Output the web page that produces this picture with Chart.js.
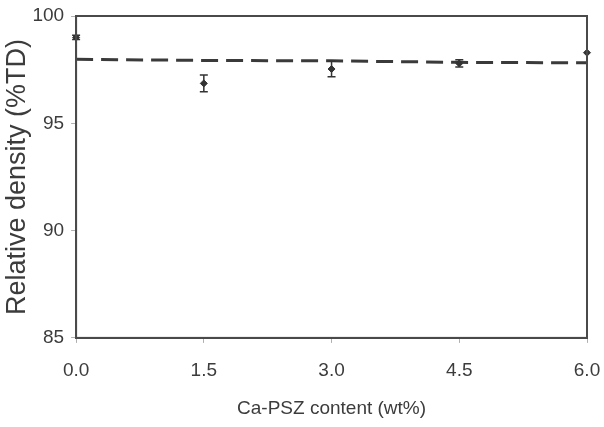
<!DOCTYPE html>
<html>
<head>
<meta charset="utf-8">
<script src="https://cdn.jsdelivr.net/npm/chart.js@4/dist/chart.umd.min.js"></script>
<style>
  html, body { margin: 0; padding: 0; background: #ffffff; }
  #wrap { width: 604px; height: 427px; position: relative; }
</style>
</head>
<body>
<div id="wrap"><canvas id="c" width="604" height="427"></canvas></div>
<script>
// Data
const caPszContent = [0.0, 1.5, 3.0, 4.5, 6.0];          // wt%
const measuredDensity = [99.0, 96.86, 97.53, 97.79, 98.29]; // %TD
const densityError = [0.1, 0.39, 0.36, 0.17, 0.0];          // +/- %TD
const referenceDensity = [97.98, 97.93, 97.91, 97.84, 97.82]; // dashed line
const xTicks = [0.0, 1.5, 3.0, 4.5, 6.0];
const yTicks = [85, 90, 95, 100];

const ink = '#3c3c3c';
const FONT = '"Liberation Sans", Arial, sans-serif';

const errorBarPlugin = {
  id: 'errorBars',
  afterDatasetsDraw(chart) {
    const xs = chart.scales.x, ys = chart.scales.y;
    const ctx = chart.ctx;
    ctx.save();
    ctx.strokeStyle = '#333';
    ctx.lineWidth = 1.5;
    caPszContent.forEach((xv, i) => {
      const e = densityError[i];
      if (!e) return;
      const px = xs.getPixelForValue(xv);
      const yTop = ys.getPixelForValue(measuredDensity[i] + e);
      const yBot = ys.getPixelForValue(measuredDensity[i] - e);
      ctx.beginPath();
      ctx.moveTo(px, yTop); ctx.lineTo(px, yBot);
      ctx.moveTo(px - 4, yTop); ctx.lineTo(px + 4, yTop);
      ctx.moveTo(px - 4, yBot); ctx.lineTo(px + 4, yBot);
      ctx.stroke();
    });
    ctx.restore();
  }
};

const framePlugin = {
  id: 'frame',
  afterDraw(chart) {
    const a = chart.chartArea, ctx = chart.ctx;
    ctx.save();
    ctx.strokeStyle = '#4a4a4a';
    ctx.lineWidth = 2;
    ctx.strokeRect(a.left, a.top, a.right - a.left, a.bottom - a.top);
    ctx.restore();
  }
};

new Chart(document.getElementById('c'), {
  type: 'scatter',
  data: {
    datasets: [
      {
        label: 'Reference',
        data: caPszContent.map((x, i) => ({ x, y: referenceDensity[i] })),
        showLine: true,
        borderColor: '#3a3a3a',
        borderWidth: 3,
        borderDash: [17, 8],
        pointRadius: 0,
        clip: false,
        order: 2
      },
      {
        label: 'Measured',
        data: caPszContent.map((x, i) => ({ x, y: measuredDensity[i] })),
        showLine: false,
        pointStyle: 'rectRot',
        pointRadius: 3.5,
        backgroundColor: '#333',
        borderColor: '#333',
        borderWidth: 1,
        clip: false,
        order: 1
      }
    ]
  },
  options: {
    responsive: false,
    animation: false,
    devicePixelRatio: 1,
    layout: { padding: { left: 0, right: 17, top: 16, bottom: 6.5 } },
    plugins: {
      legend: { display: false },
      tooltip: { enabled: false }
    },
    scales: {
      x: {
        type: 'linear',
        min: 0, max: 6,
        afterBuildTicks(scale) { scale.ticks = xTicks.map(v => ({ value: v })); },
        afterFit(scale) { scale.paddingRight = 0; scale.paddingLeft = 0; },
        ticks: {
          color: ink,
          font: { family: FONT, size: 19 },
          padding: 16,
          callback: v => Number(v).toFixed(1)
        },
        grid: { drawOnChartArea: false, drawTicks: true, tickLength: 5, color: '#b0b0b0' },
        border: { display: true, color: '#4a4a4a', width: 2 },
        title: {
          display: true,
          text: 'Ca-PSZ content (wt%)',
          color: ink,
          font: { family: FONT, size: 19 },
          padding: { top: 0, bottom: 0 }
        }
      },
      y: {
        type: 'linear',
        min: 85, max: 100,
        afterBuildTicks(scale) { scale.ticks = yTicks.map(v => ({ value: v })); },
        afterFit(scale) { scale.paddingTop = 0; scale.paddingBottom = 0; },
        ticks: {
          color: ink,
          font: { family: FONT, size: 19 },
          padding: 7
        },
        grid: { drawOnChartArea: false, drawTicks: true, tickLength: 5, color: '#b0b0b0' },
        border: { display: true, color: '#4a4a4a', width: 2 },
        title: {
          display: true,
          text: 'Relative density (%TD)',
          color: ink,
          font: { family: FONT, size: 27 },
          padding: { top: 1, bottom: -8 }
        }
      }
    }
  },
  plugins: [errorBarPlugin, framePlugin]
});
</script>
</body>
</html>
